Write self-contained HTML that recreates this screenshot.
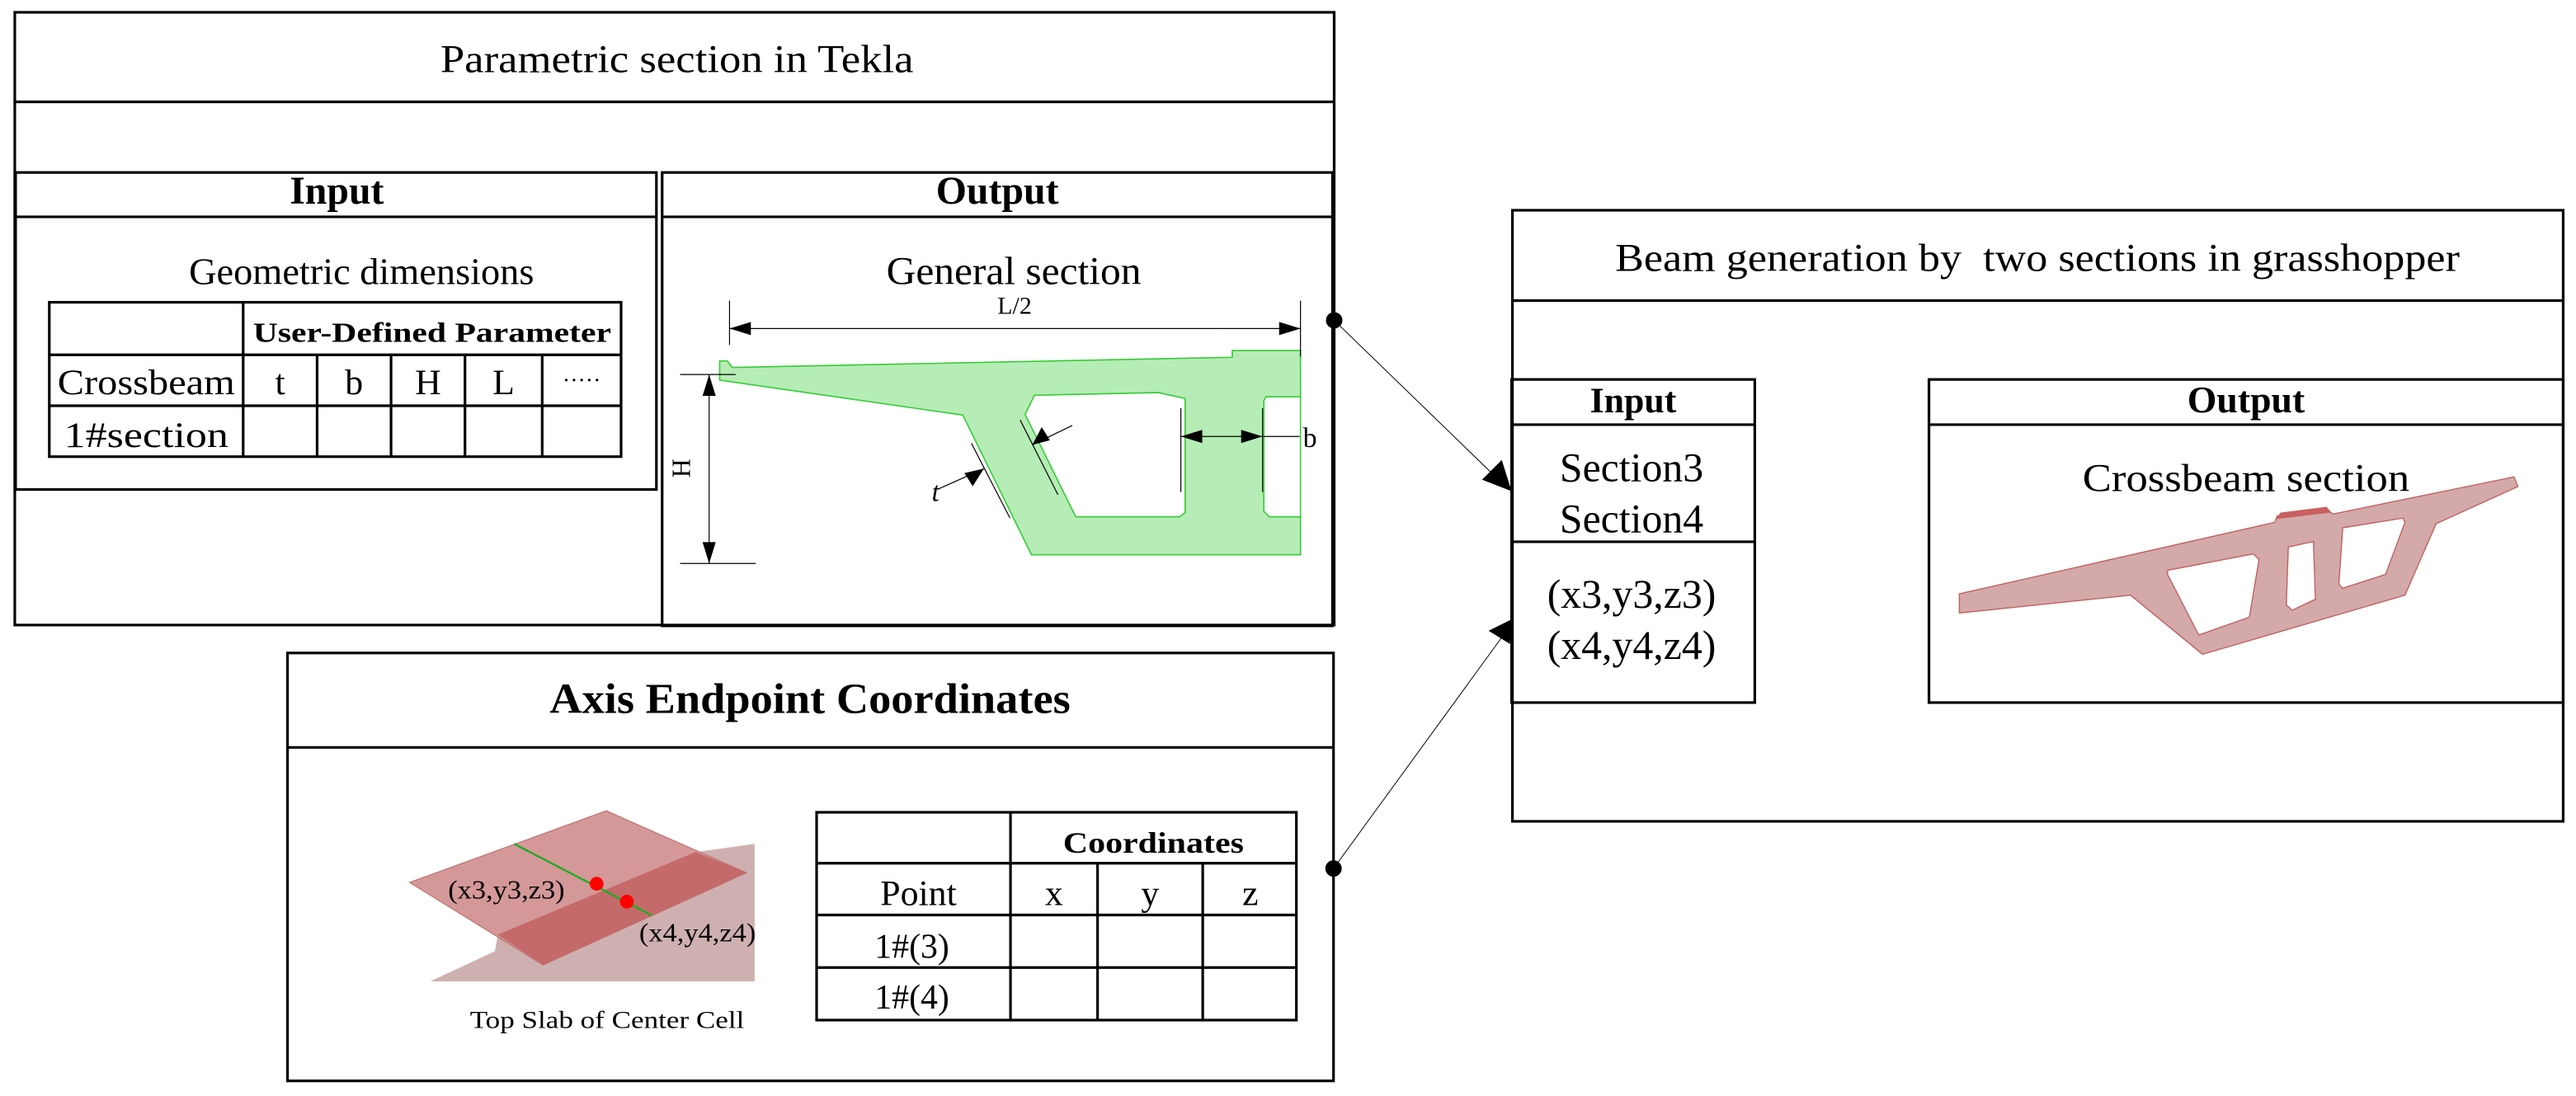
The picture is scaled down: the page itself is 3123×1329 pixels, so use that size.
<!DOCTYPE html>
<html><head><meta charset="utf-8"><style>
html,body{margin:0;padding:0;background:#fff;}
svg{display:block;}
text{font-family:"Liberation Serif",serif;fill:#000;}
.b{font-weight:bold;}
</style></head><body>
<svg width="3123" height="1329" viewBox="0 0 1567.8 667.2" preserveAspectRatio="none" xmlns="http://www.w3.org/2000/svg">
<rect width="1567.8" height="667.2" fill="#fff"/>
<g fill="none" stroke="#000" stroke-width="1.6">
<rect x="9" y="7.5" width="803" height="373"/>
<line x1="9" y1="62" x2="812" y2="62"/>
<rect x="9.5" y="105" width="390" height="193"/>
<line x1="9.5" y1="132" x2="399.5" y2="132"/>
<rect x="403" y="105" width="408" height="276"/>
<line x1="403" y1="132" x2="811" y2="132"/>
<rect x="30" y="184" width="348" height="94"/>
<line x1="30" y1="216" x2="378" y2="216"/>
<line x1="30" y1="247" x2="378" y2="247"/>
<line x1="148" y1="184" x2="148" y2="278"/>
<line x1="193" y1="216" x2="193" y2="278"/>
<line x1="238" y1="216" x2="238" y2="278"/>
<line x1="283" y1="216" x2="283" y2="278"/>
<line x1="330" y1="216" x2="330" y2="278"/>
<rect x="175" y="397.5" width="636.6" height="260.5"/>
<line x1="175" y1="455" x2="811.6" y2="455"/>
<rect x="497" y="494.5" width="292" height="126.5"/>
<line x1="497" y1="525.5" x2="789" y2="525.5"/>
<line x1="497" y1="557" x2="789" y2="557"/>
<line x1="497" y1="589" x2="789" y2="589"/>
<line x1="615" y1="494.5" x2="615" y2="621"/>
<line x1="668" y1="525.5" x2="668" y2="621"/>
<line x1="732" y1="525.5" x2="732" y2="621"/>
<rect x="920.5" y="128" width="639.5" height="372"/>
<line x1="920.5" y1="183" x2="1560" y2="183"/>
<rect x="920" y="231" width="148" height="196.7"/>
<line x1="920" y1="258.5" x2="1068" y2="258.5"/>
<line x1="920" y1="329.8" x2="1068" y2="329.8"/>
<rect x="1174" y="231" width="386" height="196.7"/>
<line x1="1174" y1="258.5" x2="1560" y2="258.5"/>
</g>

<g stroke="#000" stroke-width="0.5">
<line x1="812" y1="195" x2="912" y2="292"/>
<line x1="811.6" y1="528.7" x2="914" y2="388"/>
</g>
<circle cx="812" cy="195" r="5" fill="#000"/>
<circle cx="811.6" cy="528.7" r="5" fill="#000"/>
<polygon points="920,299 902,292 914,280" fill="#000"/>
<polygon points="920,377 919,392 906,384" fill="#000"/>

<path fill="#b6ecb6" stroke="#33cc33" stroke-width="0.8" fill-rule="evenodd" d="M438,219.7 L442.6,219.7 L445.7,223.7 L750,217.5 L750,213.4 L791.5,213.4 L791.5,337.7 L627.8,337.7 L586,252.7 L438,231.4 Z M629.6,240.6 L705.1,239 L721.3,242.6 L721.3,312 L718,314.6 L654.7,314.6 L623.9,252.3 Z M770.5,241.5 L791.5,241.5 L791.5,314.6 L772.5,314.6 L769.2,311.2 L769.2,244 Z"/>
<g stroke="#000" stroke-width="0.6" fill="none">
<line x1="444" y1="183" x2="444" y2="210"/>
<line x1="791.5" y1="183" x2="791.5" y2="217"/>
<line x1="444" y1="200" x2="791.5" y2="200"/>
<line x1="431.6" y1="228" x2="431.6" y2="343"/>
<line x1="413.9" y1="228" x2="447.7" y2="228"/>
<line x1="413.9" y1="343" x2="460" y2="343"/>
<line x1="718.7" y1="248.5" x2="718.7" y2="299.5"/>
<line x1="768.4" y1="248.5" x2="768.4" y2="299.5"/>
<line x1="718.7" y1="265.7" x2="790.9" y2="265.7"/>
<line x1="591.2" y1="269.8" x2="614.7" y2="315.4"/>
<line x1="620.9" y1="255.7" x2="643.9" y2="301.2"/>
<line x1="570.6" y1="297.9" x2="598.8" y2="285.3"/>
<line x1="652.6" y1="259" x2="628.3" y2="270.8"/>
</g>
<g fill="#000">
<polygon points="444,200 457,196 457,204"/>
<polygon points="791.5,200 778.5,196 778.5,204"/>
<polygon points="431.6,228 427.6,241 435.6,241"/>
<polygon points="431.6,343 427.6,330 435.6,330"/>
<polygon points="718.7,265.7 731.7,261.7 731.7,269.7"/>
<polygon points="768.4,265.7 755.4,261.7 755.4,269.7"/>
<polygon points="598.8,285.3 592,296 587,288"/>
<polygon points="628.3,270.8 634,260 639,268"/>
</g>
<text x="617.5" y="191" font-size="15" text-anchor="middle">L/2</text>
<text x="420" y="285" font-size="16" text-anchor="middle" transform="rotate(-90 420 285)">H</text>
<text x="793" y="272" font-size="17">b</text>
<text x="567" y="305" font-size="17" font-style="italic">t</text>

<polygon points="261.9,597.4 301.2,579 302.9,569.8 423.3,518.7 459.3,513.7 459.3,597.4" fill="#cfb0b0"/>
<polygon points="249.3,537.2 369,493.6 454.3,531.3 330.5,587.4" fill="#d49898" stroke="#c07070" stroke-width="0.6"/>
<polygon points="302.9,569 423.3,518.7 454.3,531.3 330.5,587.4" fill="#c46a6a"/>
<line x1="312.9" y1="513.7" x2="396.6" y2="557.2" stroke="#22aa22" stroke-width="1.2"/>
<circle cx="363.1" cy="538" r="4.2" fill="#f00"/>
<circle cx="381.5" cy="548.9" r="4.2" fill="#f00"/>
<text x="272.7" y="547" font-size="16" textLength="71" lengthAdjust="spacingAndGlyphs">(x3,y3,z3)</text>
<text x="389" y="573" font-size="16" textLength="71" lengthAdjust="spacingAndGlyphs">(x4,y4,z4)</text>
<text x="286" y="625.8" font-size="15" textLength="167" lengthAdjust="spacingAndGlyphs">Top Slab of Center Cell</text>

<path fill="#d4a9a9" stroke="#c06060" stroke-width="0.7" fill-rule="evenodd" d="M1192.5,361.5 L1384.4,318 L1386,314 L1416,310.4 L1420,312.9 L1530.1,290.3 L1532.4,296.2 L1482.7,318.8 L1463.7,362.3 L1340.5,398.3 L1296.7,362.3 L1192.5,373.2 Z M1319.2,347.2 L1371.3,337.2 L1374.9,340.5 L1369,375.7 L1338.2,386.6 L1319.2,349.7 Z M1392.7,333 L1408,329.7 L1409.2,364.8 L1395,371.5 L1391.5,368.2 Z M1425.8,321.3 L1462.5,315.4 L1463.7,318 L1451.9,349.7 L1425.8,358.1 L1423.5,355.6 Z"/>
<polygon points="1385,316 1388,312 1416,308.5 1419,312" fill="#c86060"/>

<text x="412" y="44" font-size="24" text-anchor="middle" textLength="288" lengthAdjust="spacingAndGlyphs">Parametric section in Tekla</text>
<text class="b" x="205" y="124" font-size="24" text-anchor="middle">Input</text>
<text class="b" x="607" y="124" font-size="24" text-anchor="middle">Output</text>
<text x="220" y="173" font-size="23" text-anchor="middle" textLength="210" lengthAdjust="spacingAndGlyphs">Geometric dimensions</text>
<text x="617" y="173" font-size="24" text-anchor="middle" textLength="155" lengthAdjust="spacingAndGlyphs">General section</text>
<text class="b" x="263" y="208" font-size="17" text-anchor="middle" textLength="218" lengthAdjust="spacingAndGlyphs">User-Defined Parameter</text>
<text x="89" y="240" font-size="22" text-anchor="middle" textLength="108" lengthAdjust="spacingAndGlyphs">Crossbeam</text>
<text x="170.5" y="240" font-size="22" text-anchor="middle">t</text>
<text x="215.5" y="240" font-size="22" text-anchor="middle">b</text>
<text x="260.5" y="240" font-size="22" text-anchor="middle">H</text>
<text x="306.5" y="240" font-size="22" text-anchor="middle">L</text>
<text x="354" y="236" font-size="14" text-anchor="middle">·····</text>
<text x="89" y="272" font-size="22" text-anchor="middle" textLength="100" lengthAdjust="spacingAndGlyphs">1#section</text>

<text class="b" x="493" y="434" font-size="26" text-anchor="middle" textLength="317" lengthAdjust="spacingAndGlyphs">Axis Endpoint Coordinates</text>
<text class="b" x="702" y="519" font-size="18" text-anchor="middle" textLength="110" lengthAdjust="spacingAndGlyphs">Coordinates</text>
<text x="559" y="551" font-size="22" text-anchor="middle">Point</text>
<text x="641.5" y="551" font-size="22" text-anchor="middle">x</text>
<text x="700" y="551" font-size="22" text-anchor="middle">y</text>
<text x="761" y="551" font-size="22" text-anchor="middle">z</text>
<text x="555" y="583" font-size="21" text-anchor="middle">1#(3)</text>
<text x="555" y="614" font-size="21" text-anchor="middle">1#(4)</text>

<text x="1240" y="165" font-size="24" text-anchor="middle" textLength="514" lengthAdjust="spacingAndGlyphs" xml:space="preserve">Beam generation by  two sections in grasshopper</text>
<text class="b" x="994" y="251" font-size="22" text-anchor="middle">Input</text>
<text x="993" y="293" font-size="25" text-anchor="middle">Section3</text>
<text x="993" y="324" font-size="25" text-anchor="middle">Section4</text>
<text x="993" y="370" font-size="25" text-anchor="middle">(x3,y3,z3)</text>
<text x="993" y="401" font-size="25" text-anchor="middle">(x4,y4,z4)</text>
<text class="b" x="1367" y="251" font-size="23" text-anchor="middle">Output</text>
<text x="1367" y="299" font-size="24" text-anchor="middle" textLength="199" lengthAdjust="spacingAndGlyphs">Crossbeam section</text>
</svg>
</body></html>
